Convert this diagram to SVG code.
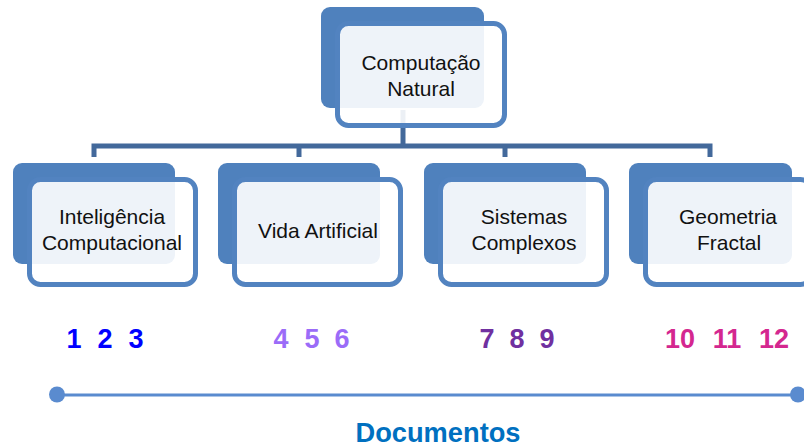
<svg xmlns="http://www.w3.org/2000/svg" width="804" height="447" viewBox="0 0 804 447">
  <style>
    .back { fill: #4F81BD; }
    .front { fill: #FFFFFF; fill-opacity: 0.9; stroke: #5283C0; stroke-width: 5; }
    .label { font-family: "Liberation Sans", Arial, sans-serif; font-size: 21px; fill: #111111; text-anchor: middle; }
    .wire { fill: none; stroke: #43699B; stroke-width: 5; }
    .num { font-family: "Liberation Sans", Arial, sans-serif; font-size: 27px; font-weight: bold; text-anchor: middle; }
    .axis { stroke: #5A8BCF; stroke-width: 3; }
    .dot { fill: #5A8BCF; }
  </style>

  <rect width="804" height="447" fill="#FFFFFF"/>

  <!-- hierarchy connectors -->
  <g id="connectors">
    <path class="wire" d="M403,110 V146"/>
    <path class="wire" d="M94,157 V146 H710 V157"/>
    <path class="wire" d="M299,146 V157"/>
    <path class="wire" d="M505,146 V157"/>
  </g>

  <!-- root node -->
  <g id="computacao-natural">
    <rect class="back" x="321" y="7" width="163" height="101" rx="9"/>
    <rect class="front" x="337.5" y="23.5" width="167" height="102" rx="11"/>
    <text class="label" x="421" y="70">Computação</text>
    <text class="label" x="421" y="96">Natural</text>
  </g>

  <!-- child nodes -->
  <g id="inteligencia-computacional">
    <rect class="back" x="13" y="163" width="162" height="101" rx="9"/>
    <rect class="front" x="29.5" y="179.5" width="166" height="105" rx="11"/>
    <text class="label" x="112" y="224">Inteligência</text>
    <text class="label" x="112" y="250">Computacional</text>
  </g>

  <g id="vida-artificial">
    <rect class="back" x="218" y="163" width="162" height="101" rx="9"/>
    <rect class="front" x="234.5" y="179.5" width="166" height="105" rx="11"/>
    <text class="label" x="318" y="238">Vida Artificial</text>
  </g>

  <g id="sistemas-complexos">
    <rect class="back" x="424" y="163" width="162" height="101" rx="9"/>
    <rect class="front" x="440.5" y="179.5" width="166" height="105" rx="11"/>
    <text class="label" x="524" y="224">Sistemas</text>
    <text class="label" x="524" y="250">Complexos</text>
  </g>

  <g id="geometria-fractal">
    <rect class="back" x="629" y="163" width="163" height="101" rx="9"/>
    <rect class="front" x="645.5" y="179.5" width="166" height="105" rx="11"/>
    <text class="label" x="728" y="224">Geometria</text>
    <text class="label" x="729" y="250">Fractal</text>
  </g>

  <!-- document numbers -->
  <g id="documentos-numeros">
    <text class="num" y="348" fill="#0000FF"><tspan x="74">1</tspan><tspan x="105">2</tspan><tspan x="136">3</tspan></text>
    <text class="num" y="348" fill="#9B6CF8"><tspan x="281">4</tspan><tspan x="312">5</tspan><tspan x="342">6</tspan></text>
    <text class="num" y="348" fill="#7030A0"><tspan x="487">7</tspan><tspan x="517">8</tspan><tspan x="547">9</tspan></text>
    <text class="num" y="348" fill="#D4278F"><tspan x="680">10</tspan><tspan x="727">11</tspan><tspan x="774">12</tspan></text>
  </g>

  <!-- documents axis -->
  <g id="eixo-documentos">
    <line class="axis" x1="57" y1="395" x2="798" y2="395"/>
    <circle class="dot" cx="57" cy="394.5" r="8"/>
    <circle class="dot" cx="798" cy="394.5" r="8"/>
    <text x="438" y="442" font-family="'Liberation Sans', Arial, sans-serif" font-size="28" font-weight="bold" fill="#0070C0" text-anchor="middle" textLength="165" lengthAdjust="spacingAndGlyphs">Documentos</text>
  </g>
</svg>
